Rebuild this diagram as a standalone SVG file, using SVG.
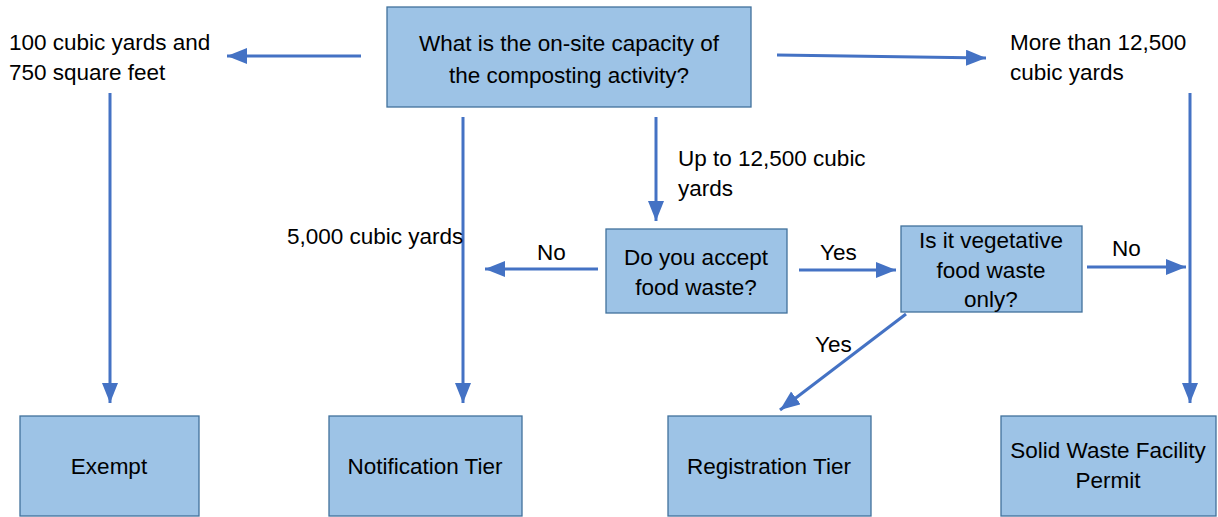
<svg xmlns="http://www.w3.org/2000/svg" width="1218" height="517" viewBox="0 0 1218 517">
<style>
.box{fill:#9DC3E6;stroke:#41719C;stroke-width:1.3}
.t{font-family:"Liberation Sans",Arial,sans-serif;font-size:22.5px;fill:#000}
.c{text-anchor:middle}
.ln{stroke:#4472C4;stroke-width:3;fill:none;marker-end:url(#ah)}
</style>
<defs>
<marker id="ah" markerUnits="userSpaceOnUse" markerWidth="22" markerHeight="18" refX="20" refY="8" orient="auto">
<path d="M0,0 L20,8 L0,16 Z" fill="#4472C4"/>
</marker>
</defs>
<rect width="1218" height="517" fill="#fff"/>
<g id="connectors">
<line class="ln" x1="361" y1="56" x2="227" y2="56"/>
<line class="ln" x1="777" y1="55" x2="986" y2="58"/>
<line class="ln" x1="110" y1="93" x2="110" y2="403"/>
<line class="ln" x1="463" y1="117" x2="463" y2="403"/>
<line class="ln" x1="656" y1="117" x2="656" y2="221"/>
<line class="ln" x1="598" y1="269" x2="485" y2="269"/>
<line class="ln" x1="799" y1="270" x2="896" y2="270"/>
<line class="ln" x1="1087" y1="267" x2="1186" y2="267"/>
<line class="ln" x1="1190" y1="93" x2="1190" y2="403"/>
<line class="ln" x1="906" y1="314" x2="780" y2="410"/>
</g>
<g id="labels">
<text class="t" x="9" y="50">100 cubic yards and</text>
<text class="t" x="9" y="80">750 square feet</text>
<text class="t" x="1010" y="50">More than 12,500</text>
<text class="t" x="1010" y="80">cubic yards</text>
<text class="t" x="678" y="166">Up to 12,500 cubic</text>
<text class="t" x="678" y="196">yards</text>
<text class="t" x="287" y="244">5,000 cubic yards</text>
<text class="t" x="537" y="260">No</text>
<text class="t" x="820" y="260">Yes</text>
<text class="t" x="1112" y="256">No</text>
<text class="t" x="815" y="352">Yes</text>
</g>
<g id="q-capacity">
<rect class="box" x="387" y="7" width="364" height="100"/>
<text class="t c" x="569" y="51">What is the on-site capacity of</text>
<text class="t c" x="569" y="83">the composting activity?</text>
</g>
<g id="q-food">
<rect class="box" x="606" y="229" width="181" height="84"/>
<text class="t c" x="696" y="265">Do you accept</text>
<text class="t c" x="696" y="295">food waste?</text>
</g>
<g id="q-veg">
<rect class="box" x="901" y="226" width="181" height="86"/>
<text class="t c" x="991" y="248">Is it vegetative</text>
<text class="t c" x="991" y="278">food waste</text>
<text class="t c" x="991" y="307">only?</text>
</g>
<g id="exempt">
<rect class="box" x="20" y="416" width="179" height="100"/>
<text class="t c" x="109" y="474">Exempt</text>
</g>
<g id="notification">
<rect class="box" x="329" y="416" width="193" height="100"/>
<text class="t c" x="425" y="474">Notification Tier</text>
</g>
<g id="registration">
<rect class="box" x="668" y="416" width="203" height="100"/>
<text class="t c" x="769" y="474">Registration Tier</text>
</g>
<g id="swfp">
<rect class="box" x="1001" y="416" width="215" height="100"/>
<text class="t c" x="1108" y="458">Solid Waste Facility</text>
<text class="t c" x="1108" y="488">Permit</text>
</g>
</svg>
